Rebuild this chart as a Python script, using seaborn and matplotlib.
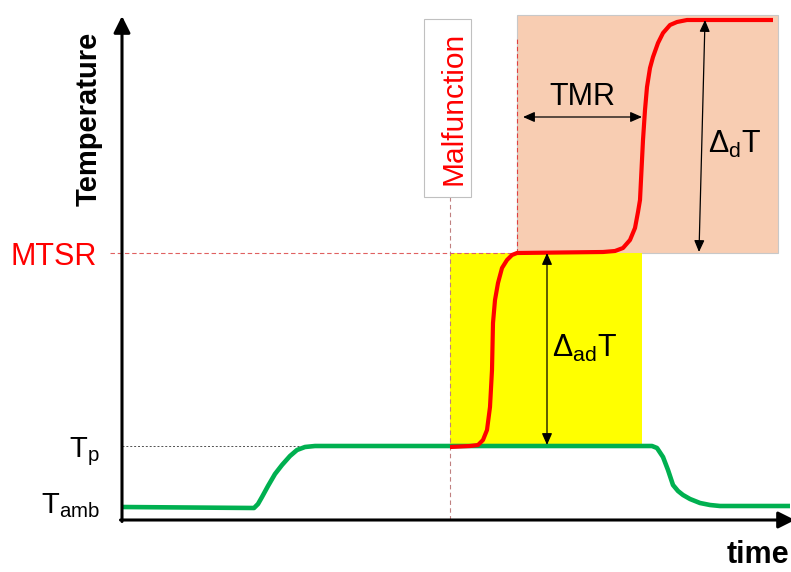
import numpy as np
import pandas as pd
import matplotlib
matplotlib.use('Agg')
import matplotlib.pyplot as plt
import seaborn as sns
from matplotlib.patches import Rectangle

# ---------------- data (schematic units: time, temperature) ----------------
green_time = [0, 132, 136, 140, 146, 153, 160, 168, 175, 183, 193, 530, 535, 541, 546, 551, 556, 561, 568, 578, 588, 598, 668]
green_temp = [13, 12, 16, 23, 34, 46, 55, 64, 70, 73, 74, 74, 72, 63, 50, 35, 29, 25, 21, 17, 15, 14, 14]

red_time = [328, 348, 356, 361, 365, 368, 370, 371, 373, 376, 380, 385, 390, 395, 481, 493, 501, 508, 513, 516, 518,
            520, 521, 523, 525, 528, 531, 536, 541, 548, 555, 565, 651]
red_temp = [73, 74, 75, 80, 90, 113, 150, 197, 220, 237, 252, 260, 265, 267, 268, 269, 272, 280, 292, 308, 320,
            360, 380, 410, 433, 452, 463, 477, 487, 495, 498, 500, 500]

level_names = ['MTSR', r'$\mathrm{T}_{\mathrm{p}}$', r'$\mathrm{T}_{\mathrm{amb}}$']
level_values = [267, 74, 13]
T_top = 505
t_malfunction = 328
t_mtsr_reached = 395
t_yellow_end = 520
t_peach_end = 656

# ---------------- style ----------------
sns.set_theme(style='white')
plt.rcParams['font.family'] = ['Liberation Sans', 'DejaVu Sans']
plt.rcParams['mathtext.fontset'] = 'custom'
plt.rcParams['mathtext.rm'] = 'Liberation Sans'
plt.rcParams['mathtext.it'] = 'Liberation Sans:italic'
plt.rcParams['mathtext.bf'] = 'Liberation Sans:bold'

fig = plt.figure(figsize=(7.91, 5.72), dpi=100)
ax = fig.add_axes([0, 0, 1, 1])

T_mtsr, T_p, T_amb = level_values

# shaded regions
ax.add_patch(Rectangle((t_mtsr_reached, T_mtsr), t_peach_end - t_mtsr_reached, T_top - T_mtsr,
                       facecolor='#F8CDB2', edgecolor='#C8C8C8', lw=0.8, zorder=0.8))
ax.add_patch(Rectangle((t_malfunction, T_p), t_yellow_end - t_malfunction, T_mtsr - T_p,
                       facecolor='#FFFF00', edgecolor='none', zorder=1))

# Malfunction box
ax.add_patch(Rectangle((302, 323), 47, 178, facecolor='white', edgecolor='#C0C0C0', lw=0.8, zorder=2))
ax.text(340, 412, 'Malfunction', rotation=90, rotation_mode='anchor', ha='center', va='baseline',
        color='#FF0000', fontsize=21.5, zorder=3)

# dashed guide lines
ax.plot([t_malfunction, t_malfunction], [0, 323], color='#C08080', lw=0.8, ls=(0, (4, 3)), zorder=1.5)
ax.plot([-12, t_mtsr_reached], [T_mtsr, T_mtsr], color='#E06060', lw=0.8, ls=(0, (4, 2.5)), zorder=1.5)
ax.plot([t_mtsr_reached, t_mtsr_reached], [T_mtsr, 483], color='#E04040', lw=0.8, ls=(0, (4, 2.5)), zorder=1.5)
ax.plot([0, t_malfunction], [T_p, T_p], color='#505050', lw=0.7, ls=(0, (2, 2)), zorder=1.5)

# curves
green_df = pd.DataFrame({'time': green_time, 'temp': green_temp})
red_df = pd.DataFrame({'time': red_time, 'temp': red_temp})
sns.lineplot(data=green_df, x='time', y='temp', color='#00B050', lw=3.3, sort=False, estimator=None,
             ax=ax, zorder=3, solid_capstyle='butt')
sns.lineplot(data=red_df, x='time', y='temp', color='#FF0000', lw=3.0, sort=False, estimator=None,
             ax=ax, zorder=4, solid_capstyle='butt')
ax.set_xlim(-122, 669)
ax.set_ylim(-52, 520)
ax.axis('off')

# main axes arrows
axis_style = dict(arrowstyle='-|>,head_length=0.5,head_width=0.25', lw=2.2, color='black',
                  shrinkA=0, shrinkB=0, mutation_scale=20)
ax.annotate('', xy=(0, 504), xytext=(0, -1.5), arrowprops=axis_style, zorder=5)
ax.annotate('', xy=(673, 0), xytext=(-1.5, 0), arrowprops=axis_style, zorder=5, annotation_clip=False)

# dimension arrows
dim_style = dict(arrowstyle='<|-|>,head_length=0.5,head_width=0.22', lw=0.9, color='black',
                 shrinkA=0, shrinkB=0, mutation_scale=14)
ax.annotate('', xy=(520, 403), xytext=(401, 403), arrowprops=dim_style, zorder=5)
ax.annotate('', xy=(583, 500), xytext=(577, 268), arrowprops=dim_style, zorder=5)
ax.annotate('', xy=(425, 267), xytext=(425, 75), arrowprops=dim_style, zorder=5)

# annotations
ax.text(460, 415, 'TMR', ha='center', va='baseline', fontsize=22, color='black', zorder=6)
ax.text(613, 367, r'$\Delta_{\mathrm{d}}\mathrm{T}$', ha='center', va='baseline', fontsize=22, color='black', zorder=6)
ax.text(463, 163, r'$\Delta_{\mathrm{ad}}\mathrm{T}$', ha='center', va='baseline', fontsize=22, color='black', zorder=6)

# level labels
ax.text(-25, T_mtsr - 12, level_names[0], ha='right', va='baseline', fontsize=22, color='#FF0000')
ax.text(-22, T_p - 11, level_names[1], ha='right', va='baseline', fontsize=21, color='black')
ax.text(-22, T_amb - 6, level_names[2], ha='right', va='baseline', fontsize=21, color='black')

# axis titles
ax.text(-25, 401, 'Temperature', rotation=90, rotation_mode='anchor', ha='center', va='baseline',
        fontsize=21, fontweight='bold', color='black')
ax.text(667, -43, 'time', ha='right', va='baseline', fontsize=22, fontweight='bold', color='black')

fig.savefig('out.png', dpi=100)
